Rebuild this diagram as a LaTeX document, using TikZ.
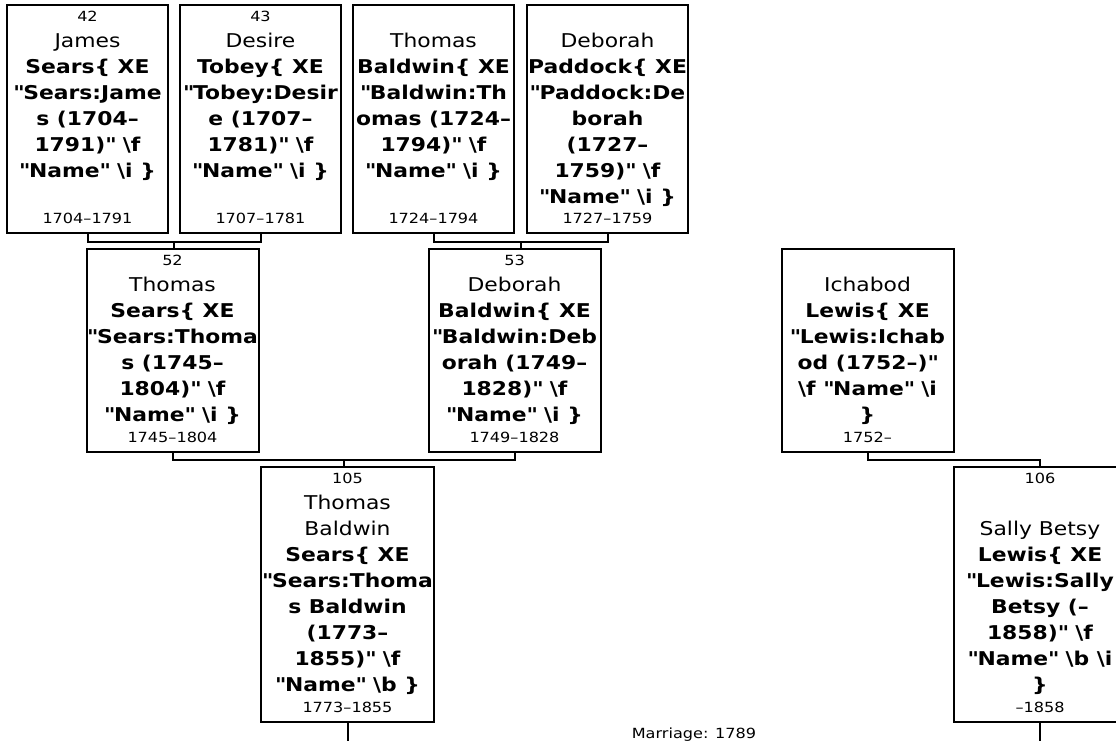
\documentclass[tikz,border=0pt]{standalone}
\usepackage{fontspec}
\setmainfont{DejaVu Sans}[FakeStretch=1.15]
\usetikzlibrary{calc}
\newcommand{\PNum}[1]{\rule{0pt}{12pt}{\fontsize{14}{26}\selectfont #1}}
\newcommand{\BS}{\textbackslash}
\newcommand{\Q}{\textquotedbl}
\tikzset{
  person/.style={draw=black, line width=2pt, inner sep=0pt},
  wideA/.style={minimum width=161, minimum height=228},
  wideB/.style={minimum width=172, minimum height=203},
  wideC/.style={minimum width=173, minimum height=255},
  ptext/.style={anchor=north, align=center, inner sep=0pt, font=\fontsize{19}{26}\selectfont},
  pdate/.style={anchor=base, inner sep=0pt, font=\fontsize{14}{17}\selectfont},
  link/.style={line width=2pt},
}
\begin{document}
\begin{tikzpicture}[x=1pt,y=-1pt]
\useasboundingbox (0,0) rectangle (1116,741);
\clip (0,0) rectangle (1116,741);
% boxes
\node[person,wideA] (p42) at (87.5,119) {};
\node[person,wideA] (p43) at (260.5,119) {};
\node[person,wideA] (pTB) at (433.5,119) {};
\node[person,wideA] (pDP) at (607.5,119) {};
\node[person,wideB] (p52) at (172.5,350.5) {};
\node[person,wideB] (p53) at (514.5,350.5) {};
\node[person,wideB] (pIL) at (867.5,350.5) {};
\node[person,wideC] (p105) at (347.5,594.5) {};
\node[person,wideC] (p106) at (1040,594.5) {};
% connectors
\coordinate (j1) at ($(p42.south)!0.5!(p43.south)+(0,8)$);
\coordinate (j2) at ($(pTB.south)!0.5!(pDP.south)+(0,8)$);
\coordinate (j3) at ($(p52.south)!0.5!(p53.south)+(0,7)$);
\coordinate (j4) at ($(pIL.south)+(0,7)$);
\draw[link] (p42.south) |- (j1) -| (p43.south);
\draw[link] (j1) -- (j1 |- p52.north);
\draw[link] (pTB.south) |- (j2) -| (pDP.south);
\draw[link] (j2) -- (j2 |- p53.north);
\draw[link] (p52.south) |- (j3) -| (p53.south);
\draw[link] (j3) -- (j3 |- p105.north);
\draw[link] (pIL.south) -- (j4) -| (p106.north);
\coordinate (e105) at ($(p105.south)+(0,22)$);
\coordinate (e106) at ($(p106.south)+(0,22)$);
\draw[link] (p105.south) -- (e105);
\draw[link] (p106.south) -- (e106);
% texts
\node[ptext] (t42) at ($(p42.north)+(0,5)$) {\PNum{42}\\James\\\textbf{Sears\{ XE}\\\textbf{\Q Sears:Jame}\\\textbf{s (1704--}\\\textbf{1791)\Q{} \BS f}\\\textbf{\Q Name\Q{} \BS i \}}};
\node[ptext] (t43) at ($(p43.north)+(0,5)$) {\PNum{43}\\Desire\\\textbf{Tobey\{ XE}\\\textbf{\Q Tobey:Desir}\\\textbf{e (1707--}\\\textbf{1781)\Q{} \BS f}\\\textbf{\Q Name\Q{} \BS i \}}};
\node[ptext] (tTB) at ($(pTB.north)+(0,5)$) {\PNum{}\\Thomas\\\textbf{Baldwin\{ XE}\\\textbf{\Q Baldwin:Th}\\\textbf{omas (1724--}\\\textbf{1794)\Q{} \BS f}\\\textbf{\Q Name\Q{} \BS i \}}};
\node[ptext] (tDP) at ($(pDP.north)+(0,5)$) {\PNum{}\\Deborah\\\textbf{Paddock\{ XE}\\\textbf{\Q Paddock:De}\\\textbf{borah}\\\textbf{(1727--}\\\textbf{1759)\Q{} \BS f}\\\textbf{\Q Name\Q{} \BS i \}}};
\node[ptext] (t52) at ($(p52.north)+(0,5)$) {\PNum{52}\\Thomas\\\textbf{Sears\{ XE}\\\textbf{\Q Sears:Thoma}\\\textbf{s (1745--}\\\textbf{1804)\Q{} \BS f}\\\textbf{\Q Name\Q{} \BS i \}}};
\node[ptext] (t53) at ($(p53.north)+(0,5)$) {\PNum{53}\\Deborah\\\textbf{Baldwin\{ XE}\\\textbf{\Q Baldwin:Deb}\\\textbf{orah (1749--}\\\textbf{1828)\Q{} \BS f}\\\textbf{\Q Name\Q{} \BS i \}}};
\node[ptext] (tIL) at ($(pIL.north)+(0,5)$) {\PNum{}\\Ichabod\\\textbf{Lewis\{ XE}\\\textbf{\Q Lewis:Ichab}\\\textbf{od (1752--)\Q}\\\textbf{\BS f \Q Name\Q{} \BS i}\\\textbf{\}}};
\node[ptext] (t105) at ($(p105.north)+(0,5)$) {\PNum{105}\\Thomas\\Baldwin\\\textbf{Sears\{ XE}\\\textbf{\Q Sears:Thoma}\\\textbf{s Baldwin}\\\textbf{(1773--}\\\textbf{1855)\Q{} \BS f}\\\textbf{\Q Name\Q{} \BS b \}}};
\node[ptext] (t106) at ($(p106.north)+(0,5)$) {\PNum{106}\\\mbox{}\\Sally Betsy\\\textbf{Lewis\{ XE}\\\textbf{\Q Lewis:Sally}\\\textbf{Betsy (--}\\\textbf{1858)\Q{} \BS f}\\\textbf{\Q Name\Q{} \BS b \BS i}\\\textbf{\}}};
% dates
\node[pdate] (d42) at ($(p42.south)+(0,-11)$) {1704--1791};
\node[pdate] (d43) at ($(p43.south)+(0,-11)$) {1707--1781};
\node[pdate] (dTB) at ($(pTB.south)+(0,-11)$) {1724--1794};
\node[pdate] (dDP) at ($(pDP.south)+(0,-11)$) {1727--1759};
\node[pdate] (d52) at ($(p52.south)+(0,-11)$) {1745--1804};
\node[pdate] (d53) at ($(p53.south)+(0,-11)$) {1749--1828};
\node[pdate] (dIL) at ($(pIL.south)+(0,-11)$) {1752--};
\node[pdate] (d105) at ($(p105.south)+(0,-11)$) {1773--1855};
\node[pdate] (d106) at ($(p106.south)+(0,-11)$) {--1858};
\node[pdate] (mar) at (694,738) {Marriage: 1789};
\end{tikzpicture}
\end{document}
